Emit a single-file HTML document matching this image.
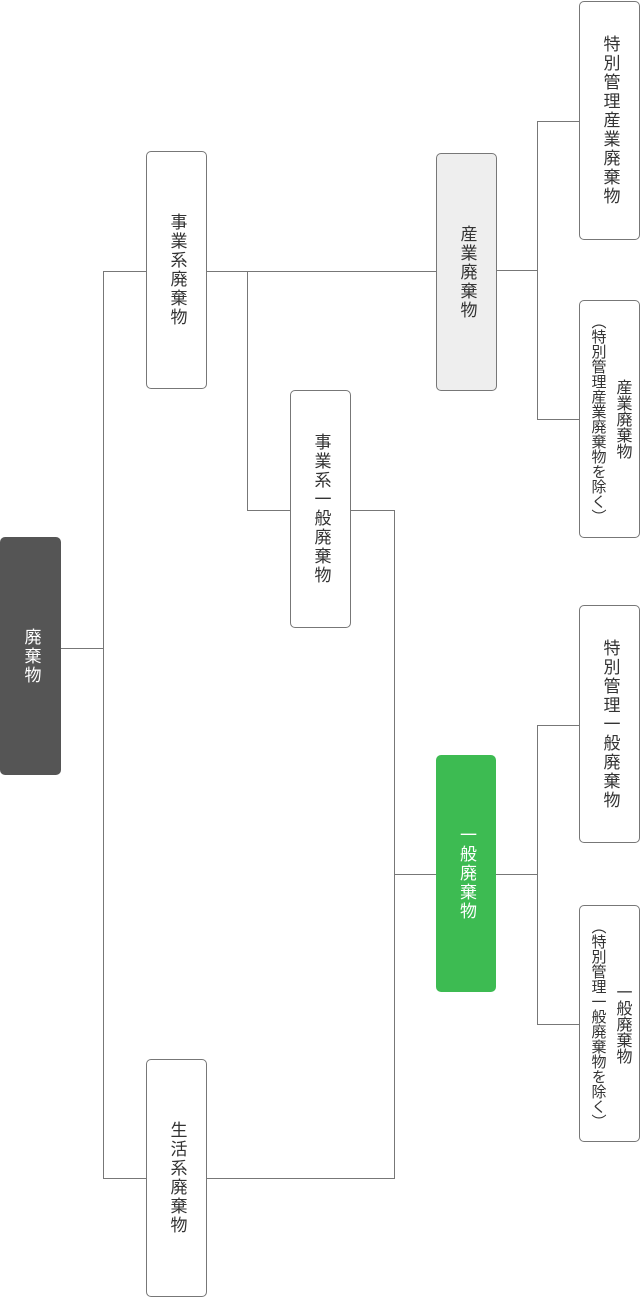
<!DOCTYPE html>
<html><head><meta charset="utf-8"><style>
body{margin:0;width:641px;height:1298px;position:relative;background:#fff;font-family:"Liberation Sans","Noto Sans CJK JP",sans-serif;}
.b{position:absolute;box-sizing:border-box;border:1px solid #777;border-radius:5px;background:#fff;display:flex;align-items:center;justify-content:center;color:#333;font-size:17px;}
.t{writing-mode:vertical-rl;text-align:center;line-height:22px;letter-spacing:2px;}
.l{position:absolute;background:#777;}
.h{height:1px}.v{width:1px}
</style></head><body>
<div class="l h" style="left:60px;top:648px;width:43px"></div>
<div class="l v" style="left:103px;top:271px;height:908px"></div>
<div class="l h" style="left:103px;top:271px;width:43px"></div>
<div class="l h" style="left:103px;top:1178px;width:43px"></div>
<div class="l h" style="left:206px;top:271px;width:230px"></div>
<div class="l v" style="left:247px;top:271px;height:240px"></div>
<div class="l h" style="left:247px;top:510px;width:43px"></div>
<div class="l h" style="left:350px;top:510px;width:44px"></div>
<div class="l v" style="left:394px;top:510px;height:669px"></div>
<div class="l h" style="left:206px;top:1178px;width:188px"></div>
<div class="l h" style="left:394px;top:874px;width:42px"></div>
<div class="l h" style="left:497px;top:270px;width:40px"></div>
<div class="l v" style="left:537px;top:121px;height:299px"></div>
<div class="l h" style="left:537px;top:121px;width:42px"></div>
<div class="l h" style="left:537px;top:419px;width:42px"></div>
<div class="l h" style="left:495px;top:874px;width:42px"></div>
<div class="l v" style="left:537px;top:725px;height:300px"></div>
<div class="l h" style="left:537px;top:725px;width:42px"></div>
<div class="l h" style="left:537px;top:1024px;width:42px"></div>

<div class="b" style="left:0;top:537px;width:61px;height:238px;background:#555;border-color:#555;color:#fff"><div class="t">廃棄物</div></div>
<div class="b" style="left:146px;top:151px;width:61px;height:238px"><div class="t">事業系廃棄物</div></div>
<div class="b" style="left:146px;top:1059px;width:61px;height:238px"><div class="t">生活系廃棄物</div></div>
<div class="b" style="left:290px;top:390px;width:61px;height:238px"><div class="t">事業系一般廃棄物</div></div>
<div class="b" style="left:436px;top:153px;width:61px;height:238px;background:#eee"><div class="t">産業廃棄物</div></div>
<div class="b" style="left:436px;top:755px;width:60px;height:237px;background:#3dbb52;border-color:#3dbb52;color:#fff"><div class="t">一般廃棄物</div></div>
<div class="b" style="left:579px;top:1px;width:61px;height:239px"><div class="t">特別管理産業廃棄物</div></div>
<div class="b" style="left:579px;top:300px;width:61px;height:238px"><div class="t" style="line-height:24px;letter-spacing:0;font-size:16px">産業廃棄物<br><span style="font-size:15px">（特別管理産業廃棄物を除く）</span></div></div>
<div class="b" style="left:579px;top:605px;width:61px;height:238px"><div class="t">特別管理一般廃棄物</div></div>
<div class="b" style="left:579px;top:905px;width:61px;height:237px"><div class="t" style="line-height:24px;letter-spacing:0;font-size:16px">一般廃棄物<br><span style="font-size:15px">（特別管理一般廃棄物を除く）</span></div></div>
</body></html>
